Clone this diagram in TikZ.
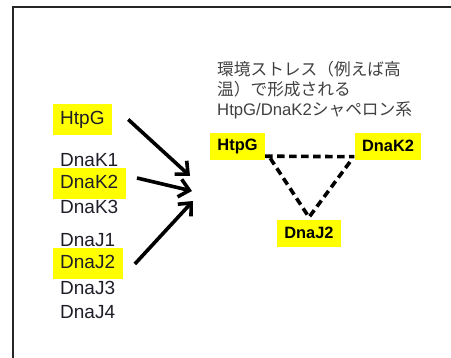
\documentclass[tikz,border=0pt]{standalone}
\usepackage{fontspec}
\setmainfont{Liberation Sans}
\newfontfamily\jp{Noto Sans CJK JP}
\usetikzlibrary{arrows.meta,calc}
\definecolor{hly}{RGB}{255,255,0}
\definecolor{txt}{RGB}{30,30,40}
\definecolor{ttl}{RGB}{64,64,64}
\begin{document}
\begin{tikzpicture}[x=1pt,y=-1pt,
  lab/.style={anchor=west,inner xsep=7.5pt,inner ysep=0pt,text height=14pt,text depth=4pt,minimum height=31pt,font=\fontsize{19}{22}\selectfont,text=txt},
  hl/.style={fill=hly},
  rnode/.style={fill=hly,inner xsep=7.5pt,inner ysep=0pt,text height=12pt,text depth=3.5pt,minimum height=27pt,font=\fontsize{16.4}{19}\selectfont\bfseries,text=black},
  arr/.style={line width=3.6pt,-{Straight Barb[length=10pt,width=18pt]}},
  tri/.style={line width=3.6pt,dash pattern=on 7.5pt off 4.5pt}
]
\useasboundingbox (0,0) rectangle (451,358);
% frame
\draw[line width=2pt,black!85] (13,362) -- (13,7) -- (455,7);
% left list
\node[lab,hl] (l1) at (52.5,119.5) {HtpG};
\node[lab] (k1) at (52.5,161.5) {DnaK1};
\node[lab,hl] (k2l) at (52.5,184) {DnaK2};
\node[lab] (k3) at (52.5,209) {DnaK3};
\node[lab] (j1) at (52.5,242) {DnaJ1};
\node[lab,hl] (j2l) at (52.5,264) {DnaJ2};
\node[lab] (j3) at (52.5,290) {DnaJ3};
\node[lab] (j4) at (52.5,314) {DnaJ4};
% arrow targets
\coordinate (t1) at (190,176);
\coordinate (t2) at (192,191);
\coordinate (t3) at (193,201);
\draw[arr] ($(l1.east)+(16,0)$) -- (t1);
\draw[arr] ($(k2l.east)+(11,-6)$) -- (t2);
\draw[arr] ($(j2l.east)+(12,0)$) -- (t3);
% title
\node[anchor=north west,inner sep=0pt,align=left,font=\fontsize{16.7}{20}\selectfont,text=ttl] (title) at (217,61)
  {{\jp 環境ストレス（例えば高}\\{\jp 温）で形成される}\\HtpG/DnaK2{\jp シャペロン系}};
% right triangle
\node[rnode] (h2) at (237.5,146.5) {HtpG};
\node[rnode] (k2) at (388,147) {DnaK2};
\node[rnode] (j2) at (309,234) {DnaJ2};
\coordinate (apex) at ($(j2.north)+(0,-3)$);
\draw[tri] ($(h2.south east)+(0,-4)$) -- ($(k2.south west)+(0,-4)$);
\draw[tri] ($(h2.south east)+(5,-2)$) -- (apex) -- ($(k2.south west)+(-2,-2)$);
\end{tikzpicture}
\end{document}
